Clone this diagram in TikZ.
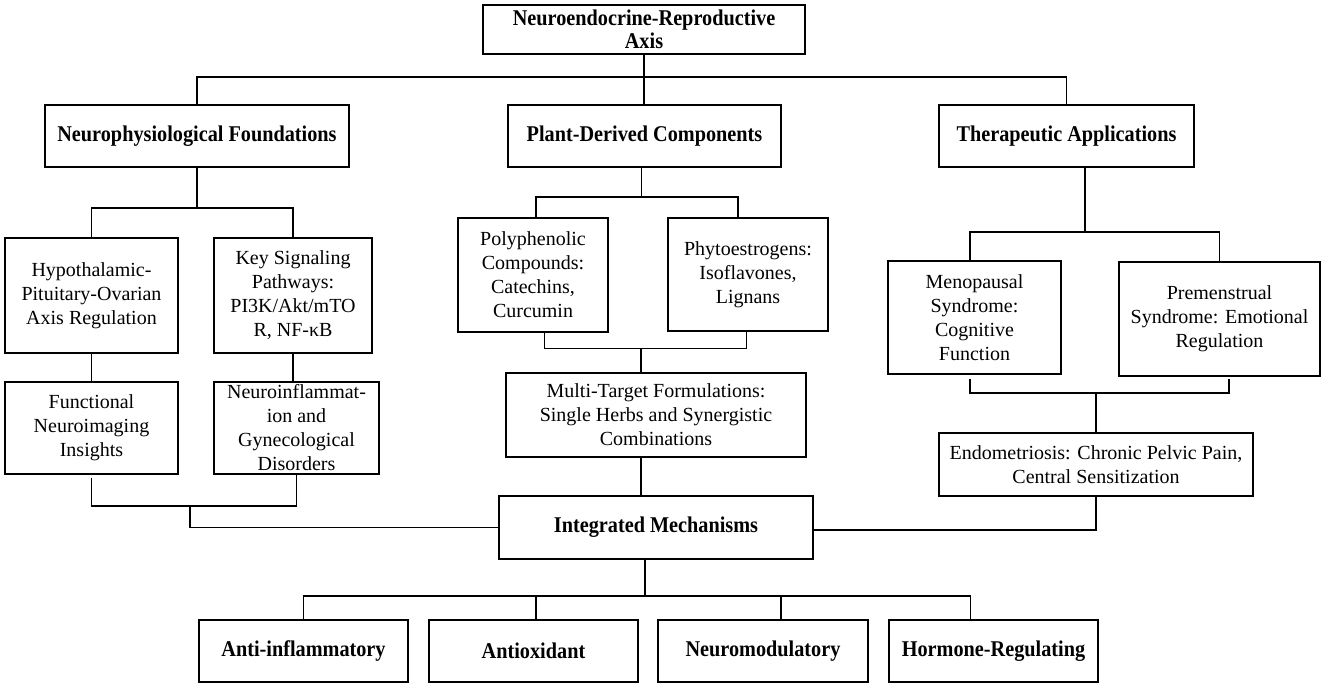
\documentclass[tikz,border=0pt]{standalone}
\usepackage{fontspec}
\setmainfont{Liberation Serif}
\newfontfamily\boldcond{Liberation Serif}[FakeStretch=0.9]
\begin{document}
\begin{tikzpicture}[x=1pt,y=-1pt,
  box/.style={draw=black, line width=1.3pt, inner sep=0pt, align=center, font=\fontsize{20}{24}\selectfont},
  bbox/.style={box, font=\boldcond\bfseries\fontsize{22.5}{23}\selectfont},
  conn/.style={line width=1.5pt, black},
  thinconn/.style={line width=0.9pt, black}]
\useasboundingbox (0,0) rectangle (1325,688);
\fill[white] (0,0) rectangle (1325,688);

% level 0
\node[bbox, minimum width=322pt, minimum height=49pt] (top) at (644,29.5) {Neuroendocrine-Reproductive\\Axis};
% level 1
\node[bbox, minimum width=304pt, minimum height=62pt] (np) at (197,136) {Neurophysiological Foundations};
\node[bbox, minimum width=273pt, minimum height=62pt] (plant) at (644.5,136) {Plant-Derived Components};
\node[bbox, minimum width=255pt, minimum height=62pt] (ther) at (1066.5,136) {Therapeutic Applications};
% left branch
\node[box, minimum width=173pt, minimum height=115pt] (hyp) at (91.5,295.5) {Hypothalamic-\\Pituitary-Ovarian\\Axis Regulation};
\node[box, minimum width=158pt, minimum height=115pt] (key) at (293,295.5) {Key Signaling\\Pathways:\\PI3K/Akt/mTO\\R, NF-κB};
\node[box, minimum width=173pt, minimum height=92pt] (func) at (91.5,428) {Functional\\Neuroimaging\\Insights};
\node[box, minimum width=165pt, minimum height=92pt] (neuro) at (296.5,428) {Neuroinflammat-\\ion and\\Gynecological\\Disorders};
% middle branch
\node[box, minimum width=150pt, minimum height=114pt] (poly) at (533,275) {Polyphenolic\\Compounds:\\Catechins,\\Curcumin};
\node[box, minimum width=160pt, minimum height=113pt] (phyto) at (748,274.5) {Phytoestrogens:\\Isoflavones,\\Lignans};
\node[box, minimum width=300pt, minimum height=84pt] (multi) at (656,415) {Multi-Target Formulations:\\Single Herbs and Synergistic\\Combinations};
\node[bbox, minimum width=314pt, minimum height=63pt] (integ) at (656,527.5) {Integrated Mechanisms};
% right branch
\node[box, minimum width=173pt, minimum height=113pt] (meno) at (974.5,317.5) {Menopausal\\Syndrome:\\Cognitive\\Function};
\node[box, minimum width=201pt, minimum height=114pt] (pre) at (1219.5,319) {Premenstrual\\Syndrome: Emotional\\Regulation};
\node[box, minimum width=314pt, minimum height=63pt] (endo) at (1096,464.5) {Endometriosis: Chronic Pelvic Pain,\\Central Sensitization};
% bottom row
\node[bbox, minimum width=209pt, minimum height=62pt] (anti) at (303.5,651) {Anti-inflammatory};
\node[bbox, minimum width=209pt, minimum height=62pt] (antiox) at (533.5,651) {Antioxidant};
\node[bbox, minimum width=210pt, minimum height=62pt] (nmod) at (763,651) {Neuromodulatory};
\node[bbox, minimum width=209pt, minimum height=62pt] (horm) at (993.5,651) {Hormone-Regulating};

% bus levels
\coordinate (busA) at (0,77);
\coordinate (busB) at (0,208);
\coordinate (busC) at (0,506);
\coordinate (busD) at (0,197);
\coordinate (busE) at (0,348);
\coordinate (busF) at (0,232);
\coordinate (busG) at (0,393);
\coordinate (busH) at (0,596);

% top level
\draw[conn, line width=1.8pt] (np.north) -- (np.north |- busA) -- (ther.north |- busA) -- (ther.north);
\draw[conn] (top.south) -- (top.south |- plant.north);

% left branch
\draw[conn] (np.south) -- (np.south |- busB);
\draw[conn] (hyp.north) -- (hyp.north |- busB) -- (key.north |- busB) -- (key.north);
\draw[conn] (hyp.south) -- (func.north);
\draw[conn] (key.south) -- (key.south |- neuro.north);
\draw[conn] ([yshift=-3pt]func.south) -- (func.south |- busC) -- (neuro.south |- busC) -- (neuro.south);
\coordinate (jL) at (190,506);
\draw[conn] (jL) -- (jL |- integ.west) -- (integ.west);

% middle branch
\draw[thinconn] ([xshift=-3.5pt]plant.south) -- ([xshift=-3.5pt]plant.south |- busD);
\draw[conn] ([xshift=3pt]poly.north) -- ([xshift=3pt]poly.north |- busD) -- ([xshift=-10pt]phyto.north |- busD) -- ([xshift=-10pt]phyto.north);
\draw[thinconn] ([xshift=11pt]poly.south) -- ([xshift=11pt]poly.south |- busE) -- ([xshift=-2pt]phyto.south |- busE) -- ([xshift=-2pt]phyto.south);
\draw[conn] ([xshift=-15pt]multi.north |- busE) -- ([xshift=-15pt]multi.north);
\draw[conn] ([xshift=-15pt]multi.south) -- ([xshift=-15pt]integ.north);

% right branch
\draw[conn] ([xshift=18.5pt]ther.south) -- ([xshift=18.5pt]ther.south |- busF);
\draw[conn] ([xshift=-4.5pt]meno.north) -- ([xshift=-4.5pt]meno.north |- busF) -- (pre.north |- busF) -- (pre.north);
\draw[conn] ([xshift=-4.5pt,yshift=-4pt]meno.south) -- ([xshift=-4.5pt]meno.south |- busG) -- ([xshift=9.5pt]pre.south |- busG) -- ([xshift=9.5pt,yshift=-2pt]pre.south);
\draw[conn] (endo.north |- busG) -- (endo.north);
\draw[conn] (endo.south) -- ([yshift=-2.5pt]endo.south |- integ.east) -- ([yshift=-2.5pt]integ.east);

% bottom
\draw[conn] ([xshift=-11pt]integ.south) -- ([xshift=-11pt]integ.south |- busH);
\draw[conn] (anti.north) -- (anti.north |- busH) -- ([xshift=-23pt]horm.north |- busH) -- ([xshift=-23pt]horm.north);
\draw[thinconn, line width=1.2pt] ([xshift=2.5pt]antiox.north |- busH) -- ([xshift=2.5pt]antiox.north);
\draw[thinconn, line width=1.2pt] ([xshift=18pt]nmod.north |- busH) -- ([xshift=18pt]nmod.north);
\end{tikzpicture}
\end{document}
